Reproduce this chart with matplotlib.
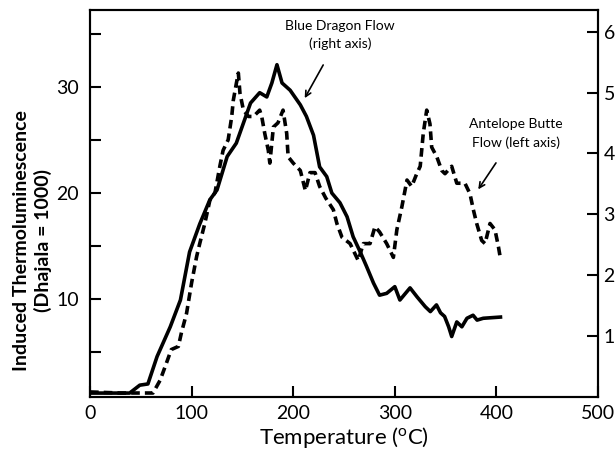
import matplotlib.pyplot as plt
from matplotlib import rcParams

rcParams.update({
    "font.family": ["Lato", "DejaVu Sans"],
    "mathtext.fontset": "custom",
    "mathtext.rm": "Lato",
    "mathtext.it": "Lato",
})

# Blue Dragon Flow (right axis)
bd_temp = [0, 39, 49, 57, 66, 79, 89, 98, 108, 118, 125, 135, 144, 151, 158, 167,
           174, 179, 184, 189, 197, 207, 213, 220, 226, 233, 238, 246, 253, 259,
           266, 272, 279, 285, 292, 300, 305, 315, 322, 330, 335, 341, 345, 349,
           353, 356, 361, 366, 371, 377, 381, 387, 404]
bd_tl = [0.06, 0.06, 0.19, 0.21, 0.66, 1.15, 1.59, 2.38, 2.84, 3.24, 3.40, 3.95,
         4.17, 4.50, 4.83, 5.00, 4.93, 5.16, 5.46, 5.16, 5.04, 4.80, 4.61, 4.30,
         3.78, 3.62, 3.35, 3.19, 2.96, 2.63, 2.38, 2.15, 1.87, 1.67, 1.70, 1.81,
         1.59, 1.79, 1.64, 1.48, 1.40, 1.51, 1.38, 1.32, 1.15, 0.99, 1.23, 1.15,
         1.29, 1.34, 1.26, 1.29, 1.31]

# Antelope Butte Flow (left axis)
ab_temp = [0, 30, 62, 69, 74, 80, 87, 90, 95, 100, 105, 108, 113, 118, 123, 128,
           131, 136, 139.5, 141, 144, 146, 147.6, 151, 156, 161, 167, 169, 172,
           175.5, 177, 180.5, 185, 190, 193.6, 195, 200, 207, 212, 216.5, 221.5,
           226, 232, 239.5, 243, 248, 256, 264, 269, 275.6, 280.5, 285, 292, 298.6,
           302, 307, 312, 316.6, 321.6, 325, 328, 331.4, 334.6, 336.3, 341.3,
           346.2, 349.4, 356, 361, 369, 374, 377.3, 380.6, 385.5, 388.8, 393.7,
           398.6, 402, 403.6]
ab_tl = [1.2, 1.1, 1.1, 2.3, 3.6, 5.2, 5.5, 6.8, 8.6, 11.5, 14.0, 15.2, 17.1, 19.3,
         20.0, 22.6, 24.0, 25.0, 27.2, 28.7, 30.3, 31.3, 29.4, 27.8, 27.2, 27.2,
         27.8, 27.2, 25.6, 24.0, 22.8, 26.2, 26.6, 27.8, 25.6, 23.4, 22.8, 22.1,
         20.2, 21.9, 21.9, 20.6, 19.5, 18.4, 17.1, 15.8, 15.2, 13.6, 15.2, 15.2,
         16.8, 16.3, 15.2, 13.9, 16.5, 18.7, 21.2, 20.6, 21.8, 22.5, 25.6, 27.8,
         26.5, 24.3, 23.4, 22.1, 21.8, 22.5, 20.9, 20.9, 19.9, 18.4, 17.1, 15.5,
         15.2, 17.1, 16.5, 14.9, 14.0]

fig = plt.figure(figsize=(6.16, 4.5), dpi=100)
ax = fig.add_axes([0.1461, 0.1184, 0.8247, 0.8594])
ax2 = ax.twinx()

ax.plot(ab_temp, ab_tl, color='black', linewidth=2.6, linestyle=(0, (2.4, 1.4)))
ax2.plot(bd_temp, bd_tl, color='black', linewidth=2.6)

ax.set_xlim(0, 500)
ax.set_ylim(0.75, 37.25)
ax2.set_ylim(0, 6.36)

ax.set_xticks([0, 100, 200, 300, 400, 500])
ax.set_yticks([5, 10, 15, 20, 25, 30, 35])
ax.set_yticklabels(['', '10', '', '20', '', '30', ''])
ax2.set_yticks([1, 2, 3, 4, 5, 6])

for a in (ax, ax2):
    for s in a.spines.values():
        s.set_linewidth(1.5)
ax.tick_params(axis='both', direction='in', length=8, width=1.5, labelsize=14, pad=6)
ax.tick_params(axis='y', pad=8)
ax2.tick_params(axis='y', direction='in', length=8, width=1.5, labelsize=14, pad=4)

ax.set_xlabel('Temperature ($^{\\mathrm{o}}$C)', fontsize=16, labelpad=2)
ax.set_ylabel('Induced Thermoluminescence\n(Dhajala = 1000)', fontsize=14,
              fontweight='bold', linespacing=1.25)
ax.yaxis.set_label_coords(-0.075, 0.405)

ax.annotate('Blue Dragon Flow\n(right axis)', xy=(210, 28.7), xytext=(246, 34.9),
            ha='center', va='center', fontsize=10, linespacing=1.55,
            arrowprops=dict(arrowstyle='->', color='black', lw=1.2, shrinkA=10))
ax.annotate('Antelope Butte\nFlow (left axis)', xy=(380.6, 20.1), xytext=(419, 25.6),
            ha='center', va='center', fontsize=10, linespacing=1.55,
            arrowprops=dict(arrowstyle='->', color='black', lw=1.2, shrinkA=10))

fig.savefig('out.png', dpi=100)
